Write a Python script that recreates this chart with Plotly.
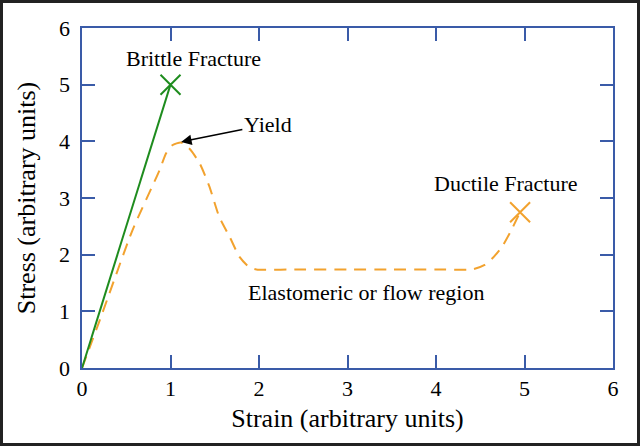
import plotly.graph_objects as go

# data
brittle_strain = [0, 1]
brittle_stress = [0, 5]

ductile_strain = [0, 0.2, 0.57, 0.876, 0.95, 1.02, 1.12, 1.22, 1.33, 1.44, 1.55, 1.67,
                  1.78, 1.89, 1.97, 2.5, 3.0, 3.5, 4.0, 4.41, 4.55, 4.64, 4.75, 4.85, 4.95]
ductile_stress = [0, 0.84, 2.43, 3.49, 3.79, 3.93, 3.98, 3.86, 3.61, 3.2, 2.67, 2.31,
                  1.96, 1.78, 1.74, 1.74, 1.74, 1.74, 1.74, 1.74, 1.82, 1.94, 2.15, 2.43, 2.75]

tick_vals = [0, 1, 2, 3, 4, 5, 6]

green = '#1E8C1E'
orange = '#F2A22E'
blue = '#3A5BA8'
serif = 'Liberation Serif'

W, H = 640, 446
ml, mr, mt, mb = 82, 27, 28, 78
pw, ph = W - ml - mr, H - mt - mb

fig = go.Figure()

fig.add_trace(go.Scatter(x=ductile_strain, y=ductile_stress, mode='lines',
                         line=dict(color=orange, width=2, dash='12px,8px', shape='spline', smoothing=0.6)))
fig.add_trace(go.Scatter(x=brittle_strain, y=brittle_stress, mode='lines',
                         line=dict(color=green, width=2)))

# fracture markers at the end of each curve
fig.add_trace(go.Scatter(x=brittle_strain[-1:], y=brittle_stress[-1:], mode='markers',
                         marker=dict(symbol='x-thin', size=20, line=dict(color=green, width=2))))
fig.add_trace(go.Scatter(x=ductile_strain[-1:], y=ductile_stress[-1:], mode='markers',
                         marker=dict(symbol='x-thin', size=20, line=dict(color=orange, width=2))))

# empty trace so the label-only overlay axes get drawn
fig.add_trace(go.Scatter(x=[None], y=[None], xaxis='x2', yaxis='y2', hoverinfo='skip'))

# frame axes: blue box with inside ticks on all four sides
frame_style = dict(range=[0, 6], tickvals=tick_vals, showgrid=False, zeroline=False,
                   showline=True, linecolor=blue, linewidth=2, mirror='ticks',
                   ticks='inside', ticklen=13, tickwidth=2, tickcolor=blue,
                   showticklabels=False, automargin=False)

# label axes: only the numbers and titles
label_style = dict(range=[0, 6], tickvals=tick_vals, showgrid=False, zeroline=False,
                   showline=False, ticks='', automargin=False,
                   tickfont=dict(family=serif, size=22, color='black'))

fig.update_layout(
    width=W, height=H,
    margin=dict(l=ml, r=mr, t=mt, b=mb),
    plot_bgcolor='white', paper_bgcolor='white',
    showlegend=False,
    font=dict(family=serif, size=22, color='black'),
    xaxis=frame_style,
    yaxis=frame_style,
    xaxis2=dict(label_style, overlaying='x', anchor='y2', side='bottom', ticklabelstandoff=5,
                title=dict(text='Strain (arbitrary units)', standoff=8)),
    yaxis2=dict(label_style, overlaying='y', anchor='x2', side='left', ticklabelstandoff=11,
                title=dict(text='Stress (arbitrary units)', standoff=15)),
)

fig.add_annotation(x=1.26, y=5.47, text='Brittle Fracture', showarrow=False)
fig.add_annotation(x=4.79, y=3.26, text='Ductile Fracture', showarrow=False)
fig.add_annotation(x=3.21, y=1.33, text='Elastomeric or flow region', showarrow=False)
fig.add_annotation(x=1.12, y=3.99, ax=2.10, ay=4.30, axref='x', ayref='y',
                   text='Yield', showarrow=True, arrowhead=2, arrowsize=1.4,
                   arrowwidth=1.5, arrowcolor='black')

# black frame round the whole figure
fig.add_shape(type='rect', xref='paper', yref='paper',
              x0=(-ml + 1.5) / pw, x1=(pw + mr - 1.5) / pw,
              y0=(-mb + 1.5) / ph, y1=(ph + mt - 1.5) / ph,
              line=dict(color='#222222', width=3))

fig.write_html('out.html', config={'displayModeBar': False},
               post_script="document.body.style.margin='0';")
